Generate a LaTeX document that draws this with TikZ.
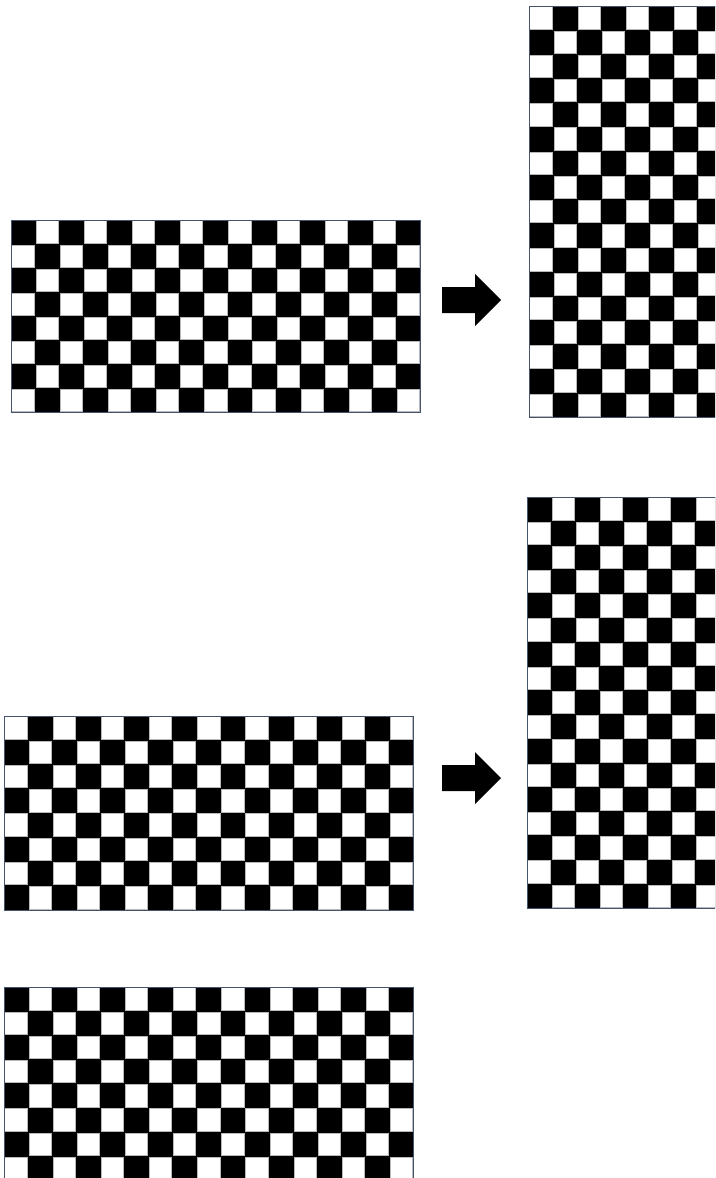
\documentclass[tikz,border=0pt]{standalone}
\definecolor{framecol}{RGB}{68,84,106}
\tikzset{
  whitecell/.style={fill=white,draw=gray!55,line width=0.9pt},
  boardframe/.style={draw=framecol,line width=1pt},
  blockarrow/.style={fill=black}
}
\newcommand{\checkboard}[7]{%
  \pgfmathtruncatemacro{\cmax}{#3-1}%
  \pgfmathtruncatemacro{\rmax}{#4-1}%
  \fill[black] (#1,#2) rectangle ++({#3*#5},{#4*#6});
  \foreach \i in {0,...,\cmax}{%
    \foreach \j in {0,...,\rmax}{%
      \pgfmathtruncatemacro{\w}{mod(\i+\j+#7,2)}%
      \ifnum\w=1
        \draw[whitecell] ({#1+\i*#5+0.9},{#2+\j*#6+0.9}) rectangle ++({#5-1.8},{#6-1.8});
      \fi
    }}
  \draw[boardframe] (#1,#2) rectangle ++({#3*#5},{#4*#6});
}
\begin{document}
\begin{tikzpicture}[x=1pt,y=-1pt]
\useasboundingbox (0,0) rectangle (715,1178);
\clip (0,0) rectangle (715,1178);
% group 1
\checkboard{11}{220}{17}{8}{24.1}{24.1}{0}
\checkboard{529}{6}{8}{17}{24.1}{24.2}{1}
\fill[blockarrow] (442,287) -- (475,287) -- (475,274) -- (501,300) -- (475,326) -- (475,313) -- (442,313) -- cycle;
% group 2
\checkboard{4}{716}{17}{8}{24.1}{24.25}{1}
\checkboard{527}{497}{8}{17}{24.1}{24.2}{0}
\fill[blockarrow] (442,765) -- (475,765) -- (475,752) -- (501,778) -- (475,804) -- (475,791) -- (442,791) -- cycle;
% bottom board
\checkboard{4}{987}{17}{8}{24.1}{24.2}{0}
\end{tikzpicture}
\end{document}
